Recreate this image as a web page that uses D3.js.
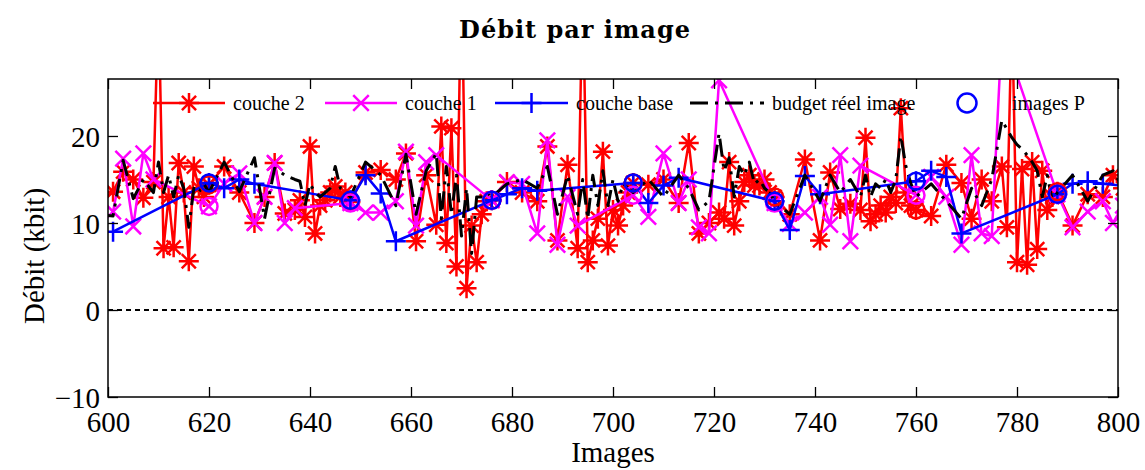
<!DOCTYPE html>
<html><head><meta charset="utf-8">
<script src="https://cdn.jsdelivr.net/npm/d3@7"></script>
<style>body{margin:0;background:#fff}svg{display:block}</style>
</head><body>
<svg id="chart" width="1145" height="470"></svg>
<script>
const titleText = "Débit par image";
const xLabelText = "Images";
const yLabelText = "Débit (kbit)";
const xTicks = [600, 620, 640, 660, 680, 700, 720, 740, 760, 780, 800];
const yTicks = [-10, 0, 10, 20];
const legendLabels = ["couche 2", "couche 1", "couche base", "budget réel image", "images P"];

const couche2Frames = [598,601,603,605,607,609,610,611,612,613,614,615,616,617,618,619,
620,623,626,629,631,633,635,637,638,639,640,641,642,643,644,645,646,647,
648,651,654,657,659,661,663,665,666,667,668,669,670,671,672,673,674,675,
676,679,682,685,687,689,691,693,694,695,696,697,698,699,700,701,702,703,
704,707,710,713,715,717,719,721,722,723,724,725,726,727,728,729,730,731,
732,735,738,741,743,745,747,749,750,751,752,753,754,755,756,757,758,759,
760,763,766,769,771,773,775,777,778,779,780,781,782,783,784,785,786,787,
788,791,794,797,799,801];
const couche2Values = [12.5,13.6,15.9,15.0,12.9,14.7,36,7.1,13,7.2,16.9,13.5,5.6,16.5,14,13,
14.4,16.5,13.5,10.0,13,16.9,11.1,11.5,12.6,10.7,18.8,8.8,12,12.6,13.5,14.2,13,13.5,
12.4,15.8,16.1,15,18.0,7.9,15.5,9.8,21.1,7.7,20.9,5.0,40,2.5,9.7,5.5,11,12.5,
12.6,14.7,13.5,12.5,18.8,8.0,16.7,7.1,38,5.5,8,10.5,18.2,7.4,11.5,9.7,12,13.5,
14.6,14.4,15,12.3,19.2,8.8,10,11.2,10.5,17,9.7,12.5,14.7,15.5,14.3,14.3,15,13.5,
13,11,17.3,8,15.8,11.6,12.2,11.5,19.8,10.2,11,12,11.2,13,12.3,23.2,13.5,12,
11.5,10.8,16.7,14.6,10.5,15,12.5,16.5,9.5,35,5.5,16.2,5.2,17,7.0,16,11.5,13,
13.6,9.7,13.3,13,15.5,14];

const couche1Frames = [601,603,605,607,609,
620,623,626,629,631,633,635,637,
648,651,654,657,659,661,663,665,
676,679,682,685,687,689,691,693,
704,707,710,713,715,717,719,721,
732,735,738,741,743,745,747,749,
760,763,766,769,771,773,775,777,
788,791,794,797,799,801];
const couche1Values = [11.3,17.4,9.6,18.0,15.0,
11.9,14.5,15.7,10.0,13,16.9,10.0,11.7,
12.3,11.2,11.2,12.5,18.2,9.7,17.0,17.8,
12.6,14.7,14.5,8.8,19.5,7.5,13,9.7,
13.2,10.7,18.0,12.3,15,9.5,8.8,26.4,
12.3,9.9,11.2,13,9.8,17.8,7.9,16.6,
13.2,15.3,13,7.5,17.8,8.8,8.5,32,
13.3,9.5,11.3,12.5,10,12];

const baseFrames = [601,620,623,626,629,648,651,654,657,676,679,682,685,704,707,710,713,
732,735,738,741,760,763,766,769,788,791,794,797,816];
const baseValues = [9.0,14.6,14.0,15.0,14.5,12.6,15.5,13.4,7.9,12.6,13.3,14.0,13.7,14.6,12.3,14.3,15.2,
12.5,9.2,15.4,13.3,14.8,16.0,15.3,8.8,13.3,14.5,14.8,14.5,13.5];

const budgetFrames = couche2Frames;
const budgetValues = [11,10.8,17.2,12.8,15,13.5,17,13.5,15.5,13,15.5,14,9.5,14,13.5,14.5,
13.5,17,13.6,17.5,10.5,16.3,15.5,15,14.8,12,14.5,13.5,13,13.5,14,16.5,14,13.5,
13,17,15.5,12,17.9,11,16,18,10.5,16.5,11,15.5,8.5,14,6.5,13,13,13.5,
13,14.5,15,14,16.5,11,15.5,11,15,10.5,15.5,12,16,12,15,12.5,14.5,14,
13.5,15,13,15.5,14,11.5,12.5,20.3,16,17.5,13,16.5,15.5,17,14.5,15,14,13.5,
12.5,11,15.5,12.5,15.5,13.5,15,13,15.5,13,14.5,14,15,13.5,15,20,16.5,14.5,
13,14.5,12.5,10.5,14,12,15,21.8,20.8,19.8,19,18.5,17.8,17,16,13,15.5,12.5,
13.5,15.5,12.5,15.5,16,14];

const pFrames = [620, 648, 676, 704, 732, 760, 788];

const RED = "#ff0000", MAG = "#ff00ff", BLUE = "#0000ff", BLACK = "#000000";
const svg = d3.select("#chart");
const L = 108, R = 1118, T = 79, B = 397;
const x = d3.scaleLinear().domain([600, 800]).range([L, R]);
const y = d3.scaleLinear().domain([-10, 26.55]).range([B, T]);

svg.append("defs").append("clipPath").attr("id", "clip")
  .append("rect").attr("x", L).attr("y", T).attr("width", R - L).attr("height", B - T);

const serif = "'Liberation Serif', 'Times New Roman', serif";

// title
svg.append("text").attr("x", 575).attr("y", 38).attr("text-anchor", "middle")
  .attr("font-family", "'DejaVu Serif', serif").attr("font-weight", "bold")
  .attr("font-size", 24).attr("letter-spacing", 1).text(titleText);

// zero line
svg.append("line").attr("x1", x(600)).attr("x2", x(800)).attr("y1", y(0)).attr("y2", y(0))
  .attr("stroke", BLACK).attr("stroke-width", 2).attr("stroke-dasharray", "5,4");

const plot = svg.append("g").attr("clip-path", "url(#clip)");

function zip(fr, vals) { return fr.map((f, i) => ({ f: f, v: vals[i] })); }
const line = d3.line().x(d => x(d.f)).y(d => y(d.v));

function asterisk(s) {
  const d = s * 0.7071;
  return `M${-s},0L${s},0M0,${-s}L0,${s}M${-d},${-d}L${d},${d}M${-d},${d}L${d},${-d}`;
}
function cross(s) { const d = s * 0.7071; return `M${-d},${-d}L${d},${d}M${-d},${d}L${d},${-d}`; }
function plus(s) { return `M${-s},0L${s},0M0,${-s}L0,${s}`; }

const LW = 2.5;
function series(data, color, marker, dash, width) {
  plot.append("path").datum(data).attr("d", line).attr("fill", "none")
    .attr("stroke", color).attr("stroke-width", width || LW)
    .attr("stroke-linejoin", "round")
    .attr("stroke-dasharray", dash || null);
  if (marker) {
    plot.selectAll(null).data(data).enter().append("path")
      .attr("transform", d => `translate(${x(d.f)},${y(d.v)})`)
      .attr("d", marker).attr("fill", "none").attr("stroke", color).attr("stroke-width", LW);
  }
}

const red = zip(couche2Frames, couche2Values);
const mag = zip(couche1Frames, couche1Values);
const blue = zip(baseFrames, baseValues);
const blk = zip(budgetFrames, budgetValues);

const DASH = "18,7,3,7";
series(red, RED, asterisk(10));
series(mag, MAG, cross(11));
series(blue, BLUE, plus(10));
series(blk, BLACK, null, DASH, 3);

// P frame circles
[[red, RED], [mag, MAG], [blue, BLUE]].forEach(([data, color]) => {
  plot.selectAll(null).data(data.filter(d => pFrames.includes(d.f))).enter().append("circle")
    .attr("cx", d => x(d.f)).attr("cy", d => y(d.v)).attr("r", 8.5)
    .attr("fill", "none").attr("stroke", color).attr("stroke-width", LW);
});

// axes
const tl = 10;
const gx = svg.append("g").attr("transform", `translate(0,${B})`)
  .call(d3.axisBottom(x).tickValues(xTicks).tickSize(-tl).tickFormat(d3.format("d")));
gx.selectAll("text").attr("y", 35).attr("dy", null);
const gxt = svg.append("g").attr("transform", `translate(0,${T})`)
  .call(d3.axisTop(x).tickValues(xTicks).tickSize(-tl).tickFormat(""));
const gy = svg.append("g").attr("transform", `translate(${L},0)`)
  .call(d3.axisLeft(y).tickValues(yTicks).tickSize(-tl).tickPadding(8)
    .tickFormat(d => d < 0 ? "\u2212" + Math.abs(d) : String(d)));
gy.selectAll("text").attr("dy", "0.36em");
const gyr = svg.append("g").attr("transform", `translate(${R},0)`)
  .call(d3.axisRight(y).tickValues(yTicks).tickSize(-tl).tickFormat(""));
[gx, gxt, gy, gyr].forEach(g => {
  g.select(".domain").remove();
  g.selectAll("line").attr("stroke", BLACK).attr("stroke-width", 1.3);
  g.selectAll("text").attr("font-family", serif).attr("font-size", 29).attr("fill", BLACK);
});
svg.append("rect").attr("x", L).attr("y", T).attr("width", R - L).attr("height", B - T)
  .attr("fill", "none").attr("stroke", BLACK).attr("stroke-width", 1.5);

// axis labels
svg.append("text").attr("x", (L + R) / 2).attr("y", 462).attr("text-anchor", "middle")
  .attr("font-family", serif).attr("font-size", 29).text(xLabelText);
svg.append("text").attr("transform", "translate(44,256) rotate(-90)").attr("text-anchor", "middle")
  .attr("font-family", serif).attr("font-size", 29).text(yLabelText);

// legend
const ly = 103;
const leg = svg.append("g");
const legendItems = [
  { x1: 153, x2: 225, tx: 233, color: RED, marker: asterisk(10), line: true },
  { x1: 325, x2: 397, tx: 405, color: MAG, marker: cross(11), line: true },
  { x1: 495, x2: 568, tx: 576, color: BLUE, marker: plus(10), line: true },
  { x1: 690, x2: 764, tx: 772, color: BLACK, marker: null, line: true, dash: DASH, w: 3 },
  { x1: 945, x2: 989, tx: 1012, color: BLUE, marker: null, line: false, circle: true }
];
legendItems.forEach((it, i) => {
  const cx = (it.x1 + it.x2) / 2;
  if (it.line) leg.append("line").attr("x1", it.x1).attr("x2", it.x2).attr("y1", ly).attr("y2", ly)
    .attr("stroke", it.color).attr("stroke-width", it.w || LW).attr("stroke-dasharray", it.dash || null);
  if (it.marker) leg.append("path").attr("transform", `translate(${cx},${ly})`).attr("d", it.marker)
    .attr("fill", "none").attr("stroke", it.color).attr("stroke-width", LW);
  if (it.circle) leg.append("circle").attr("cx", 967).attr("cy", ly).attr("r", 9.5)
    .attr("fill", "none").attr("stroke", it.color).attr("stroke-width", LW);
  leg.append("text").attr("x", it.tx).attr("y", ly + 7).attr("font-family", serif)
    .attr("font-size", 20).text(legendLabels[i]);
});
</script>
</body></html>
